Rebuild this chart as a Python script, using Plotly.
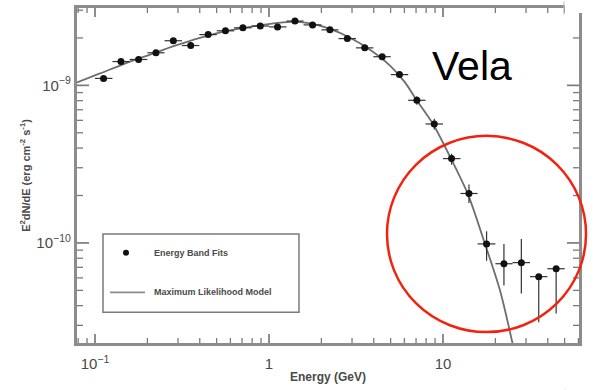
import plotly.graph_objects as go

# Vela pulsar phase-averaged spectrum: energy band fits and the likelihood model
energy_gev = [0.112, 0.141, 0.178, 0.224, 0.282, 0.355, 0.447, 0.562, 0.708,
              0.891, 1.12, 1.41, 1.78, 2.24, 2.82, 3.55, 4.47, 5.62, 7.08,
              8.91, 11.2, 14.1, 17.8, 22.4, 28.2, 35.5, 44.7]
bin_lo_gev = [0.100, 0.126, 0.158, 0.200, 0.251, 0.316, 0.398, 0.501, 0.631,
              0.794, 1.00, 1.26, 1.58, 2.00, 2.51, 3.16, 3.98, 5.01, 6.31,
              7.94, 10.0, 12.6, 15.8, 20.0, 25.1, 31.6, 39.8]
bin_hi_gev = [0.126, 0.158, 0.200, 0.251, 0.316, 0.398, 0.501, 0.631, 0.794,
              1.00, 1.26, 1.58, 2.00, 2.51, 3.16, 3.98, 5.01, 6.31, 7.94,
              10.0, 12.6, 15.8, 20.0, 25.1, 31.6, 39.8, 50.1]
e2dnde = [1.107e-9, 1.416e-9, 1.46e-9, 1.61e-9, 1.92e-9, 1.79e-9, 2.10e-9,
          2.22e-9, 2.32e-9, 2.38e-9, 2.35e-9, 2.56e-9, 2.42e-9, 2.25e-9,
          1.98e-9, 1.73e-9, 1.52e-9, 1.17e-9, 8.04e-10, 5.69e-10, 3.43e-10,
          2.06e-10, 9.86e-11, 7.38e-11, 7.5e-11, 6.11e-11, 6.86e-11]
e2dnde_err_up = [0.04e-9, 0.05e-9, 0.05e-9, 0.06e-9, 0.07e-9, 0.07e-9, 0.08e-9,
                 0.08e-9, 0.08e-9, 0.08e-9, 0.08e-9, 0.09e-9, 0.09e-9, 0.08e-9,
                 0.07e-9, 0.07e-9, 0.06e-9, 0.05e-9, 0.05e-9, 0.045e-9,
                 2.5e-11, 2.9e-11, 2.0e-11, 2.48e-11, 3.1e-11, 0.1e-11, 0.1e-11]
e2dnde_err_dn = [0.04e-9, 0.05e-9, 0.05e-9, 0.06e-9, 0.07e-9, 0.07e-9, 0.08e-9,
                 0.08e-9, 0.08e-9, 0.08e-9, 0.08e-9, 0.09e-9, 0.09e-9, 0.08e-9,
                 0.07e-9, 0.07e-9, 0.06e-9, 0.05e-9, 0.05e-9, 0.045e-9,
                 2.9e-11, 2.7e-11, 2.15e-11, 2.01e-11, 2.72e-11, 2.97e-11, 3.29e-11]

model_energy_gev = [0.0788, 0.1068, 0.1487, 0.2071, 0.2883, 0.4013, 0.5586,
                    0.7775, 1.013, 1.320, 1.720, 2.242, 2.921, 3.806, 4.960,
                    6.047, 6.996, 8.759, 11.12, 13.92, 17.43, 21.27, 25.6]
model_e2dnde = [1.044e-9, 1.190e-9, 1.375e-9, 1.567e-9, 1.785e-9, 2.004e-9,
                2.202e-9, 2.350e-9, 2.454e-9, 2.526e-9, 2.472e-9, 2.283e-9,
                2.004e-9, 1.684e-9, 1.336e-9, 1.044e-9, 8.164e-10, 5.685e-10,
                3.424e-10, 2.033e-10, 9.856e-11, 4.99e-11, 2.09e-11]

# tick positions: decades (major) and 2..9 within each decade (minor)
x_major_vals = [0.1, 1, 10]
x_minor_vals = [0.08, 0.09, 0.2, 0.3, 0.4, 0.5, 0.6, 0.7, 0.8, 0.9,
                2, 3, 4, 5, 6, 7, 8, 9, 20, 30, 40, 50, 60]
y_major_vals = [1e-10, 1e-9]
y_minor_vals = [3e-11, 4e-11, 5e-11, 6e-11, 7e-11, 8e-11, 9e-11,
                2e-10, 3e-10, 4e-10, 5e-10, 6e-10, 7e-10, 8e-10, 9e-10,
                2e-9, 3e-9]

legend_labels = ["Energy Band Fits", "Maximum Likelihood Model"]

x_err_plus = [h - e for h, e in zip(bin_hi_gev, energy_gev)]
x_err_minus = [e - l for e, l in zip(energy_gev, bin_lo_gev)]

AX = "#7a7a7a"
TXT = "#4a4a4a"
FONT = "Liberation Sans, Arial, sans-serif"

fig = go.Figure()

fig.add_trace(go.Scatter(
    x=model_energy_gev, y=model_e2dnde, mode="lines",
    line=dict(color="#6e6e6e", width=1.8, shape="spline", smoothing=0.8),
    name=legend_labels[1], showlegend=False, hoverinfo="skip",
))

fig.add_trace(go.Scatter(
    x=energy_gev, y=e2dnde, mode="markers",
    marker=dict(color="#111111", size=7, symbol="circle"),
    error_x=dict(type="data", symmetric=False, array=x_err_plus,
                 arrayminus=x_err_minus, color="#333333", thickness=1.2, width=0),
    error_y=dict(type="data", symmetric=False, array=e2dnde_err_up,
                 arrayminus=e2dnde_err_dn, color="#333333", thickness=1.2, width=0),
    name=legend_labels[0], showlegend=False,
))

axis_common = dict(
    type="log", showline=True, linecolor="#8c8c8c", linewidth=2.5, mirror=True,
    ticks="", showgrid=False, zeroline=False,
    dtick=1, exponentformat="power", showexponent="all",
    tickfont=dict(family=FONT, size=12, color=TXT),
)

fig.update_xaxes(
    **axis_common, range=[-1.1034, 1.7816], ticklabelstandoff=6,
    title=dict(text="<b>Energy (GeV)</b>", standoff=2,
               font=dict(family=FONT, size=12, color=TXT)),
)
fig.update_yaxes(
    **axis_common, range=[-10.635, -8.509], ticklabelstandoff=1,
    title=dict(text="<b>E<sup>2</sup>dN/dE (erg cm<sup>-2</sup> s<sup>-1</sup>)</b>",
               standoff=4, font=dict(family=FONT, size=11, color=TXT)),
)

# inward tick marks on all four sides of the frame
tick_shapes = []
for vals, length, width in ((x_major_vals, 9, 1.7), (x_minor_vals, 5, 1.3)):
    for v in vals:
        for anchor, sign in ((0, 1), (1, -1)):
            tick_shapes.append(dict(
                type="line", xref="x", yref="paper", ysizemode="pixel",
                yanchor=anchor, x0=v, x1=v, y0=0, y1=sign * length,
                line=dict(color=AX, width=width), layer="above"))
for vals, length, width in ((y_major_vals, 12, 1.7), (y_minor_vals, 6, 1.3)):
    for v in vals:
        for anchor, sign in ((0, 1), (1, -1)):
            tick_shapes.append(dict(
                type="line", xref="paper", yref="y", xsizemode="pixel",
                xanchor=anchor, x0=0, x1=sign * length, y0=v, y1=v,
                line=dict(color=AX, width=width), layer="above"))

shapes = tick_shapes + [
    # legend frame
    dict(type="rect", xref="paper", yref="paper", x0=0.0518, x1=0.4422,
         y0=0.0917, y1=0.3254, line=dict(color="#7a7a7a", width=1.5)),
    # legend symbol: point
    dict(type="circle", xref="paper", yref="paper", xsizemode="pixel",
         ysizemode="pixel", xanchor=0.0976, yanchor=0.2692,
         x0=-3, x1=3, y0=-3, y1=3, fillcolor="#111111",
         line=dict(color="#111111", width=0)),
    # legend symbol: model line
    dict(type="line", xref="paper", yref="paper", x0=0.0657, x1=0.1355,
         y0=0.1509, y1=0.1509, line=dict(color="#8a8a8a", width=1.8)),
    # highlight ring around the high-energy tail
    dict(type="circle", xref="paper", yref="paper", x0=0.6175, x1=1.014,
         y0=0.0325, y1=0.6183, line=dict(color="#f2220f", width=2.5)),
    # page edge marks at the right
    dict(type="rect", xref="paper", yref="paper", x0=0.972, x1=1.04,
         y0=0.985, y1=1.02, fillcolor="white", line=dict(width=0)),
    dict(type="line", xref="paper", yref="paper", x0=0.970, x1=0.970,
         y0=0.980, y1=1.02, line=dict(color="#bdbdbd", width=1)),
    dict(type="line", xref="paper", yref="paper", x0=0.972, x1=0.972,
         y0=-0.139, y1=-0.16, line=dict(color="#bdbdbd", width=1)),
]

annotations = [
    dict(text="<b>" + legend_labels[0] + "</b>", xref="paper", yref="paper",
         x=0.1494, y=0.2692, xanchor="left", yanchor="middle", showarrow=False,
         font=dict(family=FONT, size=9, color=TXT)),
    dict(text="<b>" + legend_labels[1] + "</b>", xref="paper", yref="paper",
         x=0.1494, y=0.1509, xanchor="left", yanchor="middle", showarrow=False,
         font=dict(family=FONT, size=9, color=TXT)),
    dict(text="Vela", xref="paper", yref="paper", x=0.787, y=0.828,
         xanchor="center", yanchor="middle", showarrow=False,
         font=dict(family=FONT, size=41, color="#000000")),
]

fig.update_layout(
    width=596, height=390,
    margin=dict(l=77, r=17, t=5, b=47),
    paper_bgcolor="white", plot_bgcolor="white",
    showlegend=False, shapes=shapes, annotations=annotations,
)

fig.write_html("out.html")
